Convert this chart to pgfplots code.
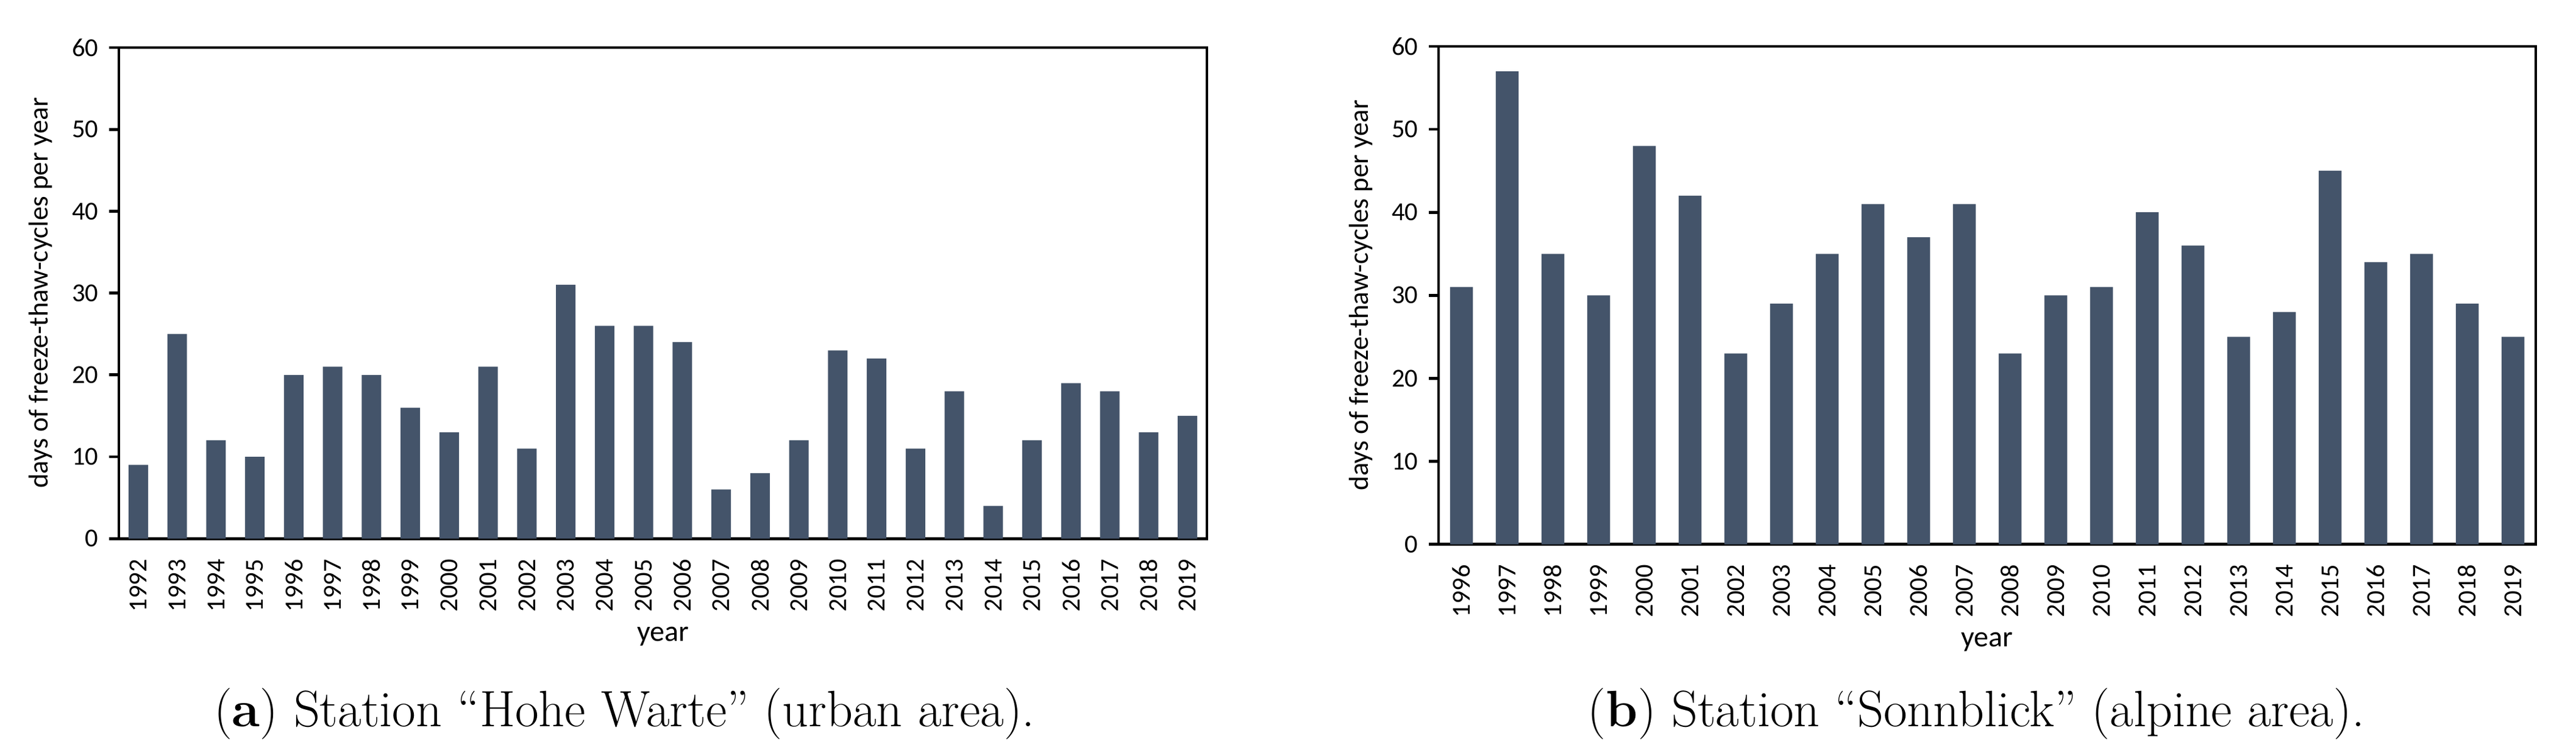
\documentclass[border=0pt]{standalone}
\usepackage{fontspec}
\newfontfamily\chartfont{Carlito}
\usepackage{pgfplots}
\pgfplotsset{compat=1.18}
\definecolor{barblue}{HTML}{44546A}

% shared look of both panels
\pgfplotsset{
  ftc/.style={
    scale only axis,
    anchor=south west,
    ymin=0, ymax=60,
    ytick={0,10,...,60},
    ytick pos=left,
    tick align=outside,
    major tick length=3.2pt,
    xtick=data,
    x tick style={draw=none},
    axis line style={line width=0.95pt},
    every tick/.append style={black, line width=0.95pt},
    /pgf/number format/assume math mode=true,
    /pgf/number format/set thousands separator={},
    ticklabel style={font=\chartfont\fontsize{8.5}{10}\selectfont},
    x tick label style={rotate=90, anchor=east},
    ybar, bar width=0.5,
    xlabel={year},
    ylabel={days of freeze-thaw-cycles per year},
    every axis x label/.style={at={(axis description cs:0.5,0)}, anchor=center,
      yshift=-32pt, font=\chartfont\fontsize{9.6}{11}\selectfont},
    every axis y label/.style={at={(axis description cs:0,0.5)}, xshift=-25.6pt,
      rotate=90, anchor=center, font=\chartfont\fontsize{9}{11}\selectfont},
  }
}

\begin{document}
\begin{tikzpicture}
\path[use as bounding box] (0,0) rectangle (845.2pt,245pt);

% (a) Hohe Warte
\begin{axis}[ftc, at={(39pt,68.34pt)}, width=357pt, height=161.06pt,
  xmin=1991.5, xmax=2019.5]
\addplot[fill=barblue, draw=none] coordinates {
  (1992,9) (1993,25) (1994,12) (1995,10) (1996,20) (1997,21) (1998,20)
  (1999,16) (2000,13) (2001,21) (2002,11) (2003,31) (2004,26) (2005,26)
  (2006,24) (2007,6) (2008,8) (2009,12) (2010,23) (2011,22) (2012,11)
  (2013,18) (2014,4) (2015,12) (2016,19) (2017,18) (2018,13) (2019,15)
};
\end{axis}

% (b) Sonnblick
\begin{axis}[ftc, at={(472pt,66.46pt)}, width=360pt, height=163.34pt,
  xmin=1995.5, xmax=2019.5]
\addplot[fill=barblue, draw=none] coordinates {
  (1996,31) (1997,57) (1998,35) (1999,30) (2000,48) (2001,42) (2002,23)
  (2003,29) (2004,35) (2005,41) (2006,37) (2007,41) (2008,23) (2009,30)
  (2010,31) (2011,40) (2012,36) (2013,25) (2014,28) (2015,45) (2016,34)
  (2017,35) (2018,29) (2019,25)
};
\end{axis}

\node[anchor=base, font=\fontsize{16.8}{19}\selectfont] at (204.9pt,6.6pt)
  {(\textbf{a}) Station “Hohe Warte” (urban area).};
\node[anchor=base, font=\fontsize{16.8}{19}\selectfont] at (648.4pt,6.6pt)
  {(\textbf{b}) Station “Sonnblick” (alpine area).};
\end{tikzpicture}
\end{document}
